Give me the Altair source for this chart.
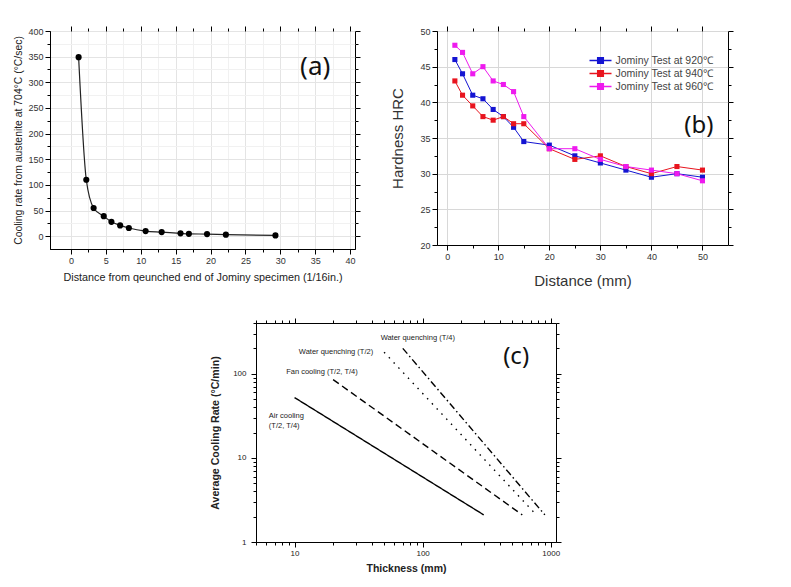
import altair as alt
import pandas as pd

# ---------------- data ----------------
# panel (a): Jominy cooling rate
a_dist = [1.1, 2.2, 3.25, 4.7, 5.8, 7.05, 8.3, 10.7, 13.0, 15.7, 16.9, 19.5, 22.2, 29.3]
a_rate = [349, 110, 55, 39, 28, 21, 16, 10, 8, 5.5, 4.5, 4, 3, 1.5]
a_tag = ["(a)"]
a_tag_x = [35]
a_tag_y = [330]

# panel (b): hardness
b_dist = [1.5, 3, 5, 7, 9, 11, 13, 15, 20, 25, 30, 35, 40, 45, 50]
b_920 = [46, 44, 41, 40.5, 39, 38, 36.5, 34.5, 34, 32.5, 31.5, 30.5, 29.5, 30, 29.5]
b_940 = [43, 41, 39.5, 38, 37.5, 38, 37, 37, 33.5, 32, 32.5, 31, 30, 31, 30.5]
b_960 = [48, 47, 44, 45, 43, 42.5, 41.5, 38, 33.5, 33.5, 32, 31, 30.5, 30, 29]
b_series = ["Jominy Test at 920℃", "Jominy Test at 940℃", "Jominy Test at 960℃"]
b_colors = ["#1414d2", "#e8141e", "#ee1aee"]
b_tag = ["(b)"]
b_tag_x = [49.3]
b_tag_y = [36.7]

# panel (c): average cooling rate vs thickness
c_series = ["Air cooling", "Fan cooling", "Water quenching (T/2)", "Water quenching (T/4)"]
c_thick_start = [10, 20, 50, 70]
c_thick_end = [300, 600, 750, 900]
c_rate_start = [52, 85, 180, 200]
c_rate_end = [2.1, 2.1, 2.2, 2.1]
c_label_text = ["Water quenching (T/4)", "Water quenching (T/2)", "Fan cooling (T/2, T/4)",
                "Air cooling", "(T/2, T/4)"]
c_label_x = [47, 10.8, 8.6, 6.3, 6.3]
c_label_y = [263, 180, 106, 31, 23.6]
c_tag = ["(c)"]
c_tag_x = [537]
c_tag_y = [156]

FONT = "Liberation Sans"
TAGFONT = "Noto Sans"
FRAME = alt.ViewBackground(stroke="black", strokeWidth=1)


def mirror(df, xf, yf, xscale, yscale, xvals, yvals, xtest, ytest):
    """transparent layer whose only job is to draw tick marks on the top and right sides"""
    return alt.Chart(df).mark_point(opacity=0).encode(
        x=alt.X(xf, scale=xscale, axis=alt.Axis(orient="top", values=xvals, labels=False, title=None,
                                                 grid=False, domain=False,
                                                 tickSize={"condition": {"test": xtest, "value": 5}, "value": 3})),
        y=alt.Y(yf, scale=yscale, axis=alt.Axis(orient="right", values=yvals, labels=False, title=None,
                                                 grid=False, domain=False,
                                                 tickSize={"condition": {"test": ytest, "value": 5}, "value": 3})),
    )


# ---------------- panel (a) ----------------
dfa = pd.DataFrame({"d": a_dist, "r": a_rate})
dfa_tag = pd.DataFrame({"d": a_tag_x, "r": a_tag_y, "t": a_tag})
xa_scale = alt.Scale(domain=[-3, 40.7], nice=False, zero=False)
ya_scale = alt.Scale(domain=[-25, 400], nice=False, zero=False)
xa_vals = [i * 2.5 for i in range(17)]
ya_vals = [i * 25 for i in range(17)]
xa_test = "datum.value % 5 == 0"
ya_test = "datum.value % 50 == 0"
xa = alt.X("d:Q", scale=xa_scale,
           axis=alt.Axis(title="Distance from qeunched end of Jominy specimen (1/16in.)",
                         values=xa_vals,
                         labelExpr=xa_test + " ? datum.label : ''",
                         tickSize={"condition": {"test": xa_test, "value": 5}, "value": 3},
                         gridColor={"condition": {"test": xa_test, "value": "#e4e4e4"}, "value": "#f1f1f1"},
                         labelFontSize=9, titleFontSize=10.8, labelColor="#333", titleColor="#222",
                         titlePadding=6))
ya = alt.Y("r:Q", scale=ya_scale,
           axis=alt.Axis(title="Cooling rate from austenite at 704°C (°C/sec)",
                         values=ya_vals,
                         labelExpr=ya_test + " ? datum.label : ''",
                         tickSize={"condition": {"test": ya_test, "value": 5}, "value": 3},
                         gridColor={"condition": {"test": ya_test, "value": "#e4e4e4"}, "value": "#f1f1f1"},
                         labelFontSize=9, titleFontSize=10.4, labelColor="#333", titleColor="#222",
                         titlePadding=4))
a_line = alt.Chart(dfa).mark_line(color="#222", strokeWidth=1.2, interpolate="monotone").encode(x=xa, y=ya)
a_pts = alt.Chart(dfa).mark_circle(size=38, color="black", opacity=1).encode(x=xa, y=ya)
a_txt = alt.Chart(dfa_tag).mark_text(fontSize=26, font=TAGFONT, color="#111").encode(x=xa, y=ya, text="t:N")
a_mir = mirror(dfa, "d:Q", "r:Q", xa_scale, ya_scale, xa_vals, ya_vals, xa_test, ya_test)
pa = alt.layer(alt.layer(a_line, a_pts, a_txt), a_mir).resolve_scale(
    x="independent", y="independent").properties(width=305, height=218, view=FRAME)

# ---------------- panel (b) ----------------
rows = []
for s, vals in zip(b_series, [b_920, b_940, b_960]):
    for d, h in zip(b_dist, vals):
        rows.append({"d": d, "h": h, "s": s})
dfb = pd.DataFrame(rows)
dfb_tag = pd.DataFrame({"d": b_tag_x, "h": b_tag_y, "t": b_tag})
xb_scale = alt.Scale(domain=[-2, 55], nice=False, zero=False)
yb_scale = alt.Scale(domain=[20, 50], nice=False, zero=False)
xb_vals = [i * 5 for i in range(11)]
yb_vals = [20 + i * 2.5 for i in range(13)]
xb_test = "datum.value % 10 == 0"
yb_test = "datum.value % 5 == 0"
xb = alt.X("d:Q", scale=xb_scale,
           axis=alt.Axis(title="Distance (mm)", values=xb_vals,
                         labelExpr=xb_test + " ? datum.label : ''",
                         tickSize={"condition": {"test": xb_test, "value": 5}, "value": 3},
                         gridOpacity={"condition": {"test": xb_test, "value": 1}, "value": 0},
                         gridColor="#d8d8d8",
                         labelFontSize=9, titleFontSize=15, labelColor="#333", titleColor="#333",
                         titlePadding=12))
yb = alt.Y("h:Q", scale=yb_scale,
           axis=alt.Axis(title="Hardness HRC", values=yb_vals,
                         labelExpr=yb_test + " ? datum.label : ''",
                         tickSize={"condition": {"test": yb_test, "value": 5}, "value": 3},
                         gridOpacity={"condition": {"test": yb_test, "value": 1}, "value": 0},
                         gridColor="#d8d8d8",
                         labelFontSize=9, titleFontSize=15, labelColor="#333", titleColor="#333",
                         titlePadding=14))
bscale = alt.Scale(domain=b_series, range=b_colors)
bleg = alt.Legend(title=None, orient="none", legendX=544, legendY=23,
                  symbolType="M-2,0H2M-0.5,-0.5H0.5V0.5H-0.5Z", symbolSize=121,
                  symbolStrokeWidth=1.6, labelFontSize=10.5, labelFont=FONT, labelColor="#444",
                  rowPadding=0, labelOffset=8.5)
b_line = alt.Chart(dfb).mark_line(strokeWidth=1).encode(
    x=xb, y=yb, color=alt.Color("s:N", scale=bscale, legend=bleg))
b_pts = alt.Chart(dfb).mark_square(size=26, opacity=1).encode(
    x=xb, y=yb, color=alt.Color("s:N", scale=bscale, legend=bleg))
b_txt = alt.Chart(dfb_tag).mark_text(fontSize=24, font=TAGFONT, color="#111").encode(x=xb, y=yb, text="t:N")
b_mir = mirror(dfb, "d:Q", "h:Q", xb_scale, yb_scale, xb_vals, yb_vals, xb_test, yb_test)
pb = alt.layer(alt.layer(b_line, b_pts, b_txt), b_mir).resolve_scale(
    x="independent", y="independent").properties(width=291, height=214, view=FRAME)

# ---------------- panel (c) ----------------
crow = []
for s, x0, x1, y0, y1 in zip(c_series, c_thick_start, c_thick_end, c_rate_start, c_rate_end):
    crow.append({"x": x0, "y": y0, "s": s})
    crow.append({"x": x1, "y": y1, "s": s})
dfc = pd.DataFrame(crow)
dfc_lab = pd.DataFrame({"x": c_label_x, "y": c_label_y, "t": c_label_text})
dfc_tag = pd.DataFrame({"x": c_tag_x, "y": c_tag_y, "t": c_tag})
xc_scale = alt.Scale(type="log", domain=[5, 1100], nice=False)
yc_scale = alt.Scale(type="log", domain=[1, 400], nice=False)
xc_vals = [5, 6, 7, 8, 9] + [10 * k for k in range(1, 10)] + [100 * k for k in range(1, 11)]
yc_vals = [k for k in range(1, 10)] + [10 * k for k in range(1, 10)] + [100, 200, 300, 400]
xc_test = "datum.value == 10 || datum.value == 100 || datum.value == 1000"
yc_test = "datum.value == 1 || datum.value == 10 || datum.value == 100"
xc = alt.X("x:Q", scale=xc_scale,
           axis=alt.Axis(title="Thickness (mm)", values=xc_vals, grid=False, format="d",
                         labelExpr=xc_test + " ? datum.label : ''",
                         tickSize={"condition": {"test": xc_test, "value": 5}, "value": 3},
                         labelFontSize=8, titleFontSize=10.5, titleFontWeight="bold",
                         labelColor="#222", titleColor="#222", titlePadding=6))
yc = alt.Y("y:Q", scale=yc_scale,
           axis=alt.Axis(title="Average Cooling Rate (°C/min)", values=yc_vals, grid=False, format="d",
                         labelExpr=yc_test + " ? datum.label : ''",
                         tickSize={"condition": {"test": yc_test, "value": 5}, "value": 3},
                         labelFontSize=8, labelPadding=5, titleFontSize=10.6, titleFontWeight="bold",
                         labelColor="#222", titleColor="#222", titlePadding=12))
c_lines = alt.Chart(dfc).mark_line(color="black", strokeWidth=1.4).encode(
    x=xc, y=yc, detail="s:N",
    strokeDash=alt.StrokeDash("s:N", scale=alt.Scale(domain=c_series,
                              range=[[1, 0], [7, 4], [1.5, 5.5], [7, 3, 1.5, 3]]), legend=None))
c_lab = alt.Chart(dfc_lab).mark_text(align="left", baseline="middle", fontSize=7.5, font=FONT,
                                     color="#222").encode(x=xc, y=yc, text="t:N")
c_txt = alt.Chart(dfc_tag).mark_text(fontSize=24, font=TAGFONT, color="#111").encode(x=xc, y=yc, text="t:N")
c_mir = mirror(dfc, "x:Q", "y:Q", xc_scale, yc_scale, xc_vals, yc_vals, xc_test, yc_test)
pc = alt.layer(alt.layer(c_lines, c_lab, c_txt), c_mir).resolve_scale(
    x="independent", y="independent").properties(width=300, height=219, view=FRAME)

spacer = alt.Chart(pd.DataFrame({"v": [0]})).mark_point(opacity=0).encode(
    x=alt.X("v:Q", axis=None), y=alt.Y("v:Q", axis=None)
).properties(width=159, height=10, view=alt.ViewBackground(stroke="transparent"))

top = alt.hconcat(pa, pb, spacing=29)
bottom = alt.hconcat(spacer, pc, spacing=0)
chart = alt.vconcat(top, bottom, spacing=28).properties(
    padding={"left": 5, "top": 17, "right": 5, "bottom": 2}, background="white"
).configure_axis(
    domainColor="black", tickColor="black", labelFont=FONT, titleFont=FONT,
    titleFontWeight="normal", domainWidth=1
)

chart.save("out.html", embed_options={"renderer": "svg", "actions": False})
